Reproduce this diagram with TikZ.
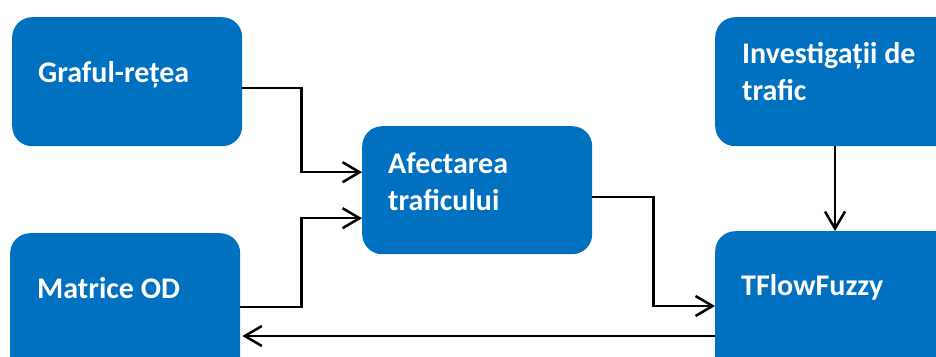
\documentclass[tikz,border=0pt]{standalone}
\usepackage{fontspec}
\setmainfont{Carlito}
\usetikzlibrary{arrows.meta}
\definecolor{boxblue}{HTML}{0070C0}
\begin{document}
\begin{tikzpicture}[x=1pt,y=-1pt,
  box/.style={draw=none, fill=boxblue, rounded corners=20pt, minimum width=230pt, anchor=north west, inner sep=0pt},
  lbl/.style={text=white, font=\bfseries\fontsize{30}{30}\selectfont, anchor=base west, inner sep=0pt},
  conn/.style={line width=2.5pt, -{Straight Barb[length=17pt,width=20pt,line width=2.5pt]}}]
\useasboundingbox (0,0) rectangle (936,356);
\clip (0,0) rectangle (936,356);
\node[box, minimum height=129pt] (graful) at (12,17) {};
\node[box, minimum height=150pt] (matrice) at (10,233) {};
\node[box, minimum height=128pt] (afect) at (362,126) {};
\node[box, minimum height=129pt, minimum width=260pt] (inv) at (715,17) {};
\node[box, minimum height=150pt, minimum width=260pt] (tflow) at (715,231) {};
\node[lbl] (tg) at (38,82) {Graful-rețea};
\node[lbl] (tm) at (37,298) {Matrice OD};
\node[lbl] (ta1) at (388,173) {Afectarea};
\node[lbl] (ta2) at (388,210) {traficului};
\node[lbl] (ti1) at (742,63) {Investigații de};
\node[lbl] (ti2) at (742,100) {trafic};
\node[lbl] (tt) at (741,295) {TFlowFuzzy};
\draw[conn] ([yshift=-6.5pt]graful.east) -- ++(59,0) |- ([yshift=18pt]afect.west);
\draw[conn] ([yshift=-74pt]matrice.north east) -- ++(61,0) |- ([yshift=-28pt]afect.west);
\draw[conn] ([yshift=-7pt]afect.east) -- ++(61,0) |- ([yshift=-75pt]tflow.north west);
\draw[conn] ([xshift=120pt]inv.south west) -- ([xshift=120pt]tflow.north west);
\draw[conn] ([yshift=-105pt]tflow.north west) -- ([yshift=-103pt,xshift=2pt]matrice.north east);
\end{tikzpicture}
\end{document}
